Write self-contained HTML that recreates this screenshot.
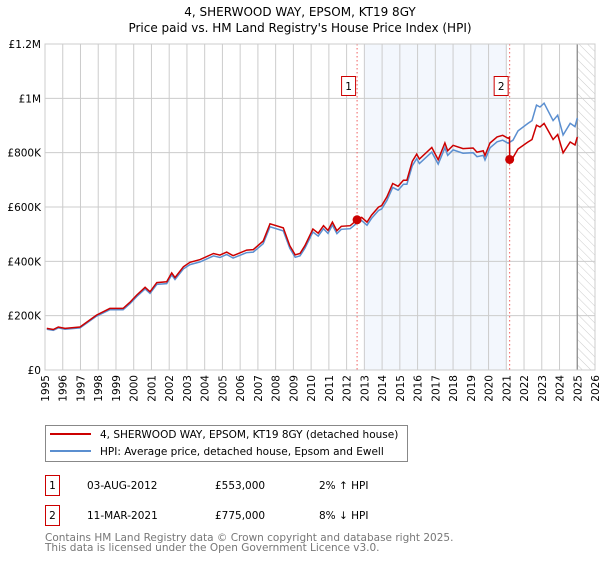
<!DOCTYPE html>
<html><head><meta charset="utf-8"><style>
body{margin:0;background:#fff;font-family:"DejaVu Sans","Liberation Sans",sans-serif;}
svg text{font-family:"DejaVu Sans","Liberation Sans",sans-serif;}
</style></head><body>
<svg id="c" width="600" height="560" xmlns="http://www.w3.org/2000/svg">
<defs><pattern id="hatch" width="6" height="6" patternUnits="userSpaceOnUse" patternTransform="rotate(-45)"><line x1="0" y1="0" x2="0" y2="6" stroke="#ccc" stroke-width="1"/></pattern></defs>
<text x="300" y="16" text-anchor="middle" font-size="12">4, SHERWOOD WAY, EPSOM, KT19 8GY</text>
<text x="300" y="32" text-anchor="middle" font-size="12">Price paid vs. HM Land Registry's House Price Index (HPI)</text>
<g id="plot"></g>
<g>
<rect x="45.5" y="425.5" width="362" height="36" fill="#fff" stroke="#888"/>
<line x1="50" y1="434" x2="91" y2="434" stroke="#cc0000" stroke-width="2"/>
<text x="100" y="438" font-size="10.5">4, SHERWOOD WAY, EPSOM, KT19 8GY (detached house)</text>
<line x1="50" y1="451" x2="91" y2="451" stroke="#5b8fd0" stroke-width="2"/>
<text x="100" y="455" font-size="10.5">HPI: Average price, detached house, Epsom and Ewell</text>
</g>
<g font-size="10.5">
<rect x="45.5" y="475.5" width="14" height="20" fill="none" stroke="#cc0000"/>
<text x="52.5" y="489" text-anchor="middle" font-size="10.5">1</text>
<text x="87" y="489" font-size="10.5">03-AUG-2012</text>
<text x="215" y="489" font-size="10.5">£553,000</text>
<text x="319" y="489" font-size="10.5">2% ↑ HPI</text>
<rect x="45.5" y="505.5" width="14" height="20" fill="none" stroke="#cc0000"/>
<text x="52.5" y="519" text-anchor="middle" font-size="10.5">2</text>
<text x="87" y="519" font-size="10.5">11-MAR-2021</text>
<text x="215" y="519" font-size="10.5">£775,000</text>
<text x="319" y="519" font-size="10.5">8% ↓ HPI</text>
</g>
<text x="45" y="541" font-size="10.5" fill="#777">Contains HM Land Registry data © Crown copyright and database right 2025.</text>
<text x="45" y="551" font-size="10.5" fill="#777">This data is licensed under the Open Government Licence v3.0.</text>
</svg>
<script>
const hpiYears=[1995.1,1995.47,1995.75,1996.13,1996.97,1997.9,1998.66,1999.4,1999.8,2000.17,2000.64,2000.92,2001.3,2001.86,2002.14,2002.33,2002.8,2003.17,2003.74,2004.5,2004.86,2005.24,2005.6,2006.37,2006.74,2007.3,2007.68,2008.43,2008.8,2009.1,2009.37,2009.65,2010.1,2010.4,2010.7,2010.95,2011.2,2011.45,2011.7,2012.2,2012.6,2012.85,2013.15,2013.4,2013.8,2013.98,2014.27,2014.6,2014.9,2015.2,2015.4,2015.7,2015.95,2016.1,2016.8,2017.16,2017.54,2017.7,2018.0,2018.56,2019.13,2019.35,2019.7,2019.8,2020.08,2020.48,2020.8,2021.1,2021.38,2021.66,2022.2,2022.45,2022.7,2022.9,2023.13,2023.64,2023.9,2024.2,2024.6,2024.87,2025.0];
const hpiValues=[150,146,155,150,155,198,222,222,245,270,298,282,315,318,350,333,372,388,398,420,414,425,412,432,434,465,527,512,448,415,420,448,508,493,520,503,533,502,518,520,542,550,533,558,587,593,624,672,662,684,684,752,778,760,802,758,818,790,810,798,800,785,790,773,818,840,846,835,846,880,907,918,975,968,982,918,938,865,908,896,928];
const saleYears=[2012.59,2021.19];
const saleValues=[553,775];
const saleLabels=["1","2"];
const yTicks=[0,200,400,600,800,1000,1200];
const yTickLabels=["£0","£200K","£400K","£600K","£800K","£1M","£1.2M"];
const xTicks=[1995,1996,1997,1998,1999,2000,2001,2002,2003,2004,2005,2006,2007,2008,2009,2010,2011,2012,2013,2014,2015,2016,2017,2018,2019,2020,2021,2022,2023,2024,2025,2026];
const shadeRange=[2013,2021];
const hatchStart=2025;

const L=45,R=595,T=44,B=370,x0=1995,x1=2026,ymax=1200;
const X=v=>L+(v-x0)/(x1-x0)*(R-L);
const Y=v=>B-v/ymax*(B-T);
const NS="http://www.w3.org/2000/svg";
const g=document.getElementById('plot');
function mk(t,a,p){const e=document.createElementNS(NS,t);for(const k in a)e.setAttribute(k,a[k]);(p||g).appendChild(e);return e;}
function interp(y){for(let i=0;i<hpiYears.length-1;i++){if(y<=hpiYears[i+1])return hpiValues[i]+(hpiValues[i+1]-hpiValues[i])*(y-hpiYears[i])/(hpiYears[i+1]-hpiYears[i]);}return hpiValues[hpiValues.length-1];}

let e=mk('rect',{x:X(shadeRange[0]),y:T,width:X(shadeRange[1])-X(shadeRange[0]),height:B-T,fill:'#eef3fc',opacity:0.7});


e=mk('rect',{x:X(hatchStart),y:T,width:R-X(hatchStart),height:B-T,fill:'url(#hatch)'});


xTicks.forEach((t,i)=>{
 let l=mk('line',{x1:X(t),x2:X(t),y1:T,y2:B,stroke:'#ccc','stroke-width':1});
 
 
 let tx=mk('text',{x:0,y:0,'font-size':10.5,'text-anchor':'end',transform:`translate(${X(t)+4},${B+5}) rotate(-90)`});
 tx.textContent=t;
 
 
});
yTicks.forEach((t,i)=>{
 let l=mk('line',{x1:L,x2:R,y1:Y(t),y2:Y(t),stroke:'#ccc','stroke-width':1});
 
 
 let tx=mk('text',{x:L-4,y:Y(t)+4,'font-size':10.5,'text-anchor':'end'});
 tx.textContent=yTickLabels[i];
 
 
});
e=mk('line',{x1:X(hatchStart),x2:X(hatchStart),y1:T,y2:B,stroke:'#888','stroke-width':1.2});


saleYears.forEach((s,i)=>{
 let l=mk('line',{x1:X(s),x2:X(s),y1:T,y2:B,stroke:'#f06060','stroke-width':1,'stroke-dasharray':'1.5,2.5'});
 
 
});
// HPI line
let d=hpiYears.map((y,i)=>(i?'L':'M')+X(y).toFixed(1)+','+Y(hpiValues[i]).toFixed(1)).join('');
e=mk('path',{d:d,fill:'none',stroke:'#5b8fd0','stroke-width':1.5});


// property line: HPI rescaled at each sale
const f1=saleValues[0]/interp(saleYears[0]),f2=saleValues[1]/interp(saleYears[1]);
let pts=[];
hpiYears.forEach((y,i)=>{if(y<saleYears[1])pts.push([y,hpiValues[i]*f1]);});
pts.push([saleYears[1]-0.01,interp(saleYears[1])*f1]);
pts.push([saleYears[1],saleValues[1]]);
hpiYears.forEach((y,i)=>{if(y>saleYears[1])pts.push([y,hpiValues[i]*f2]);});
d=pts.map((p,i)=>(i?'L':'M')+X(p[0]).toFixed(1)+','+Y(p[1]).toFixed(1)).join('');
e=mk('path',{d:d,fill:'none',stroke:'#cc0000','stroke-width':1.5});


saleYears.forEach((s,i)=>{
 let c=mk('circle',{cx:X(s),cy:Y(saleValues[i]),r:4.5,fill:'#cc0000'});
 
 
 let r=mk('rect',{x:X(s)-15.5,y:76.5,width:14,height:19,fill:'#fff',stroke:'#cc0000'});
 
 
 let t=mk('text',{x:X(s)-8.5,y:90,'font-size':10.5,'text-anchor':'middle'});
 t.textContent=saleLabels[i];
 
 
});
e=mk('rect',{x:L,y:T,width:R-L,height:B-T,fill:'none',stroke:'#ccc'});


</script>
</body></html>
